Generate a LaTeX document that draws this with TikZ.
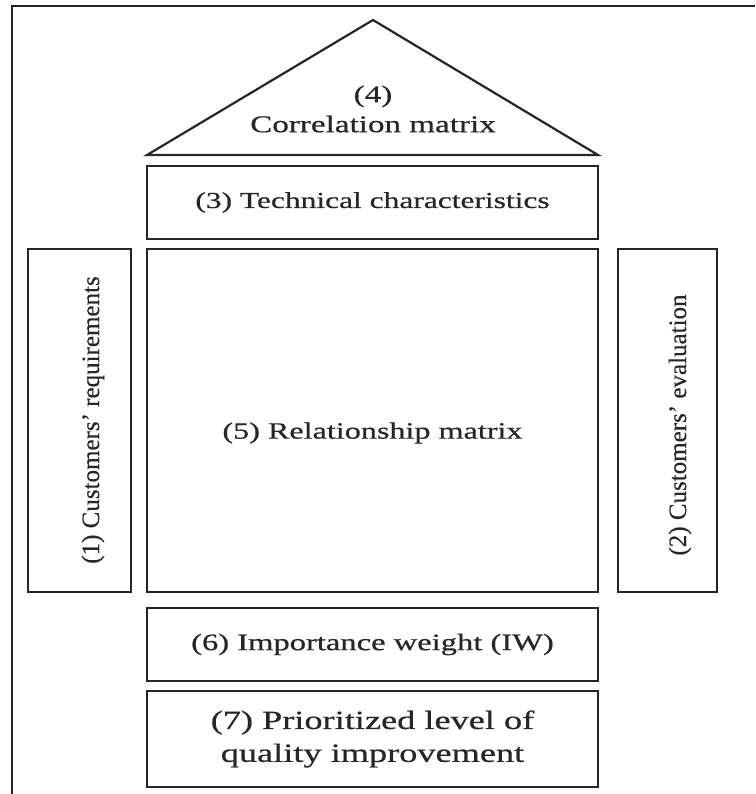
\documentclass[tikz,border=0pt]{standalone}
\usepackage{fontspec}
\setmainfont{Liberation Serif}
\newfontfamily\widefont{Liberation Serif}[FakeStretch=1.38,FakeBold=0.6]
\newfontfamily\vfont{Liberation Serif}[FakeBold=0.3]
\begin{document}
\begin{tikzpicture}[x=1pt,y=-1pt,
  box/.style={draw=black!85, line width=2.2pt, rectangle, inner sep=0pt},
  htext/.style={font=\widefont\fontsize{#1}{\dimexpr#1pt*5/4\relax}\selectfont, align=center, text=black!85},
  htext/.default=22,
  vtext/.style={font=\vfont\fontsize{25}{30}\selectfont, rotate=90, text=black!85},
  frame/.style={draw=black!85, line width=2.5pt}]
\useasboundingbox (0,0) rectangle (755,794);
% outer frame (top and left edges only)
\draw[frame] (12,794) -- (12,6) -- (755,6);
% roof
\coordinate (apex) at (373,20);
\coordinate (bl) at (147,155);
\coordinate (br) at (598,155);
\draw[draw=black!85, line width=2.2pt, line join=miter] (bl) -- (apex) -- (br) -- cycle;
\node[htext=24] (t4) at (373,109) {(4)\\Correlation matrix};
% boxes
\node[box, minimum width=451, minimum height=73] (b3) at (372.5,202.5) {};
\node[htext=22.8] (t3) at (b3.center) {(3) Technical characteristics};
\node[box, minimum width=451, minimum height=343] (b5) at (372.5,420.5) {};
\node[htext=23.3] (t5) at (372.5,433) {(5) Relationship matrix};
\node[box, minimum width=103, minimum height=343] (b1) at (79.5,420.5) {};
\node[vtext] (t1) at (93,420) {(1) Customers’ requirements};
\node[box, minimum width=99, minimum height=343] (b2) at (667.5,420.5) {};
\node[vtext] (t2) at (680,425) {(2) Customers’ evaluation};
\node[box, minimum width=451, minimum height=73] (b6) at (372.5,644.5) {};
\node[htext=23.6] (t6) at (b6.center) {(6) Importance weight (IW)};
\node[box, minimum width=451, minimum height=96] (b7) at (372.5,739) {};
\node[htext=26.3] (t7) at (b7.center) {(7) Prioritized level of\\quality improvement};
\end{tikzpicture}
\end{document}
